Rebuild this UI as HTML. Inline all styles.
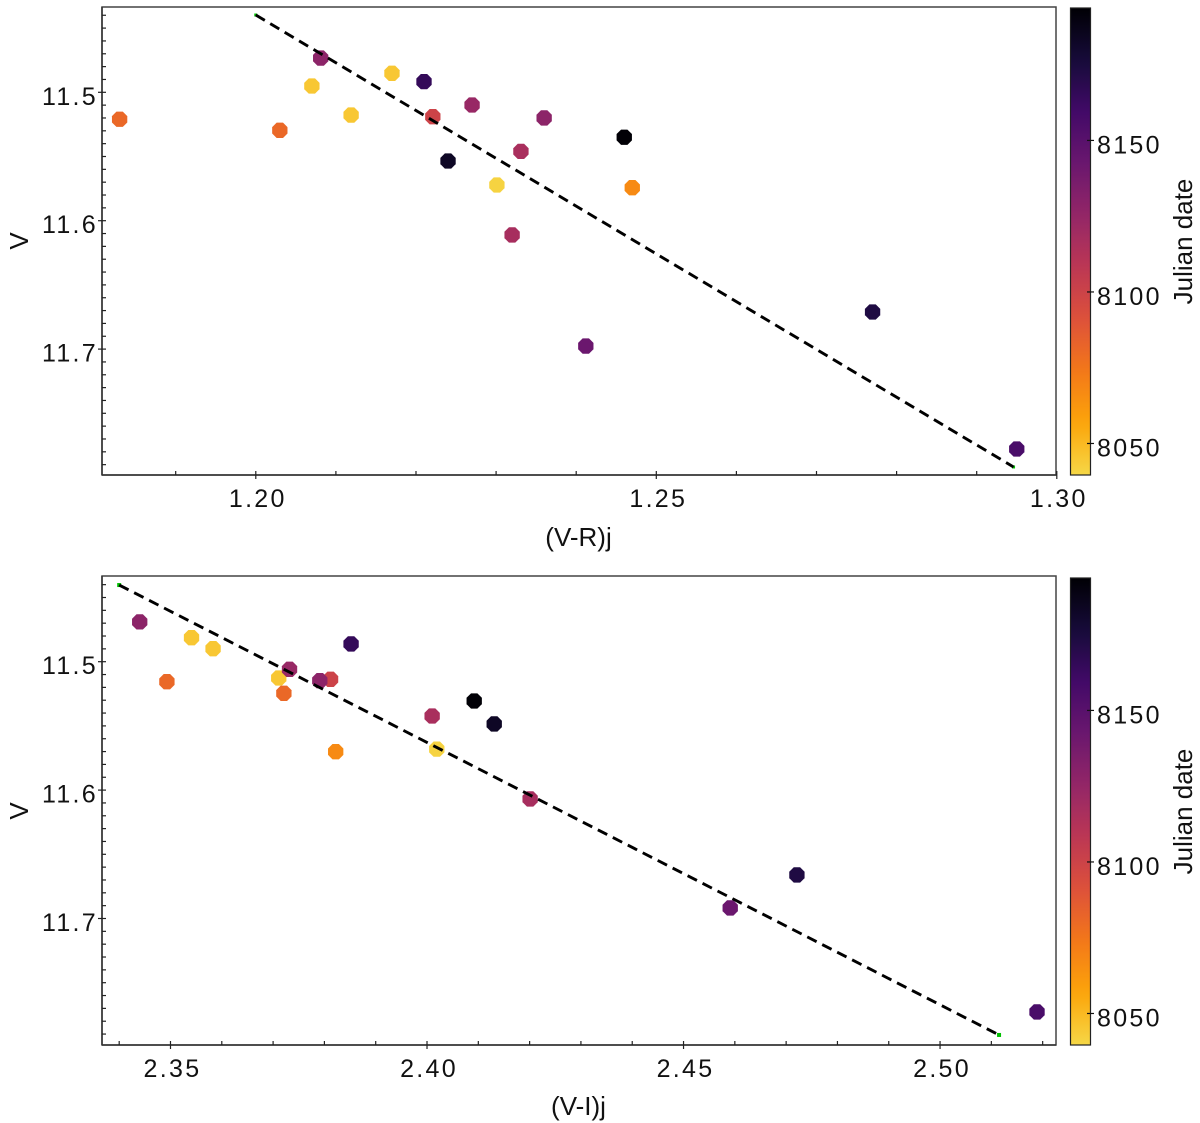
<!DOCTYPE html>
<html lang="en">
<head>
<meta charset="utf-8">
<title>Colour-magnitude diagrams</title>
<style>
html,body{margin:0;padding:0;background:#fff;width:1200px;height:1123px;overflow:hidden}
svg{display:block}
text{font-family:"Liberation Sans",Arial,sans-serif;fill:#111;font-size:26px}
.tick{letter-spacing:2.3px;font-size:25px}
.title{letter-spacing:0}
</style>
</head>
<body>
<svg id="chart" xmlns="http://www.w3.org/2000/svg" width="1200" height="1123" viewBox="0 0 1200 1123">
  <defs id="defs"></defs>
  <g id="top-panel">
    <text class="title" x="578.5" y="546" text-anchor="middle">(V-R)j</text>
    <text class="title" transform="translate(28,241) rotate(-90)" text-anchor="middle">V</text>
    <text class="title" transform="translate(1192,241.5) rotate(-90)" text-anchor="middle">Julian date</text>
  </g>
  <g id="bottom-panel">
    <text class="title" x="578.5" y="1115" text-anchor="middle">(V-I)j</text>
    <text class="title" transform="translate(28,811) rotate(-90)" text-anchor="middle">V</text>
    <text class="title" transform="translate(1192,811.5) rotate(-90)" text-anchor="middle">Julian date</text>
  </g>
</svg>
<script>
// ---- data ----
const vrColor = [1.1830,1.2030,1.2070,1.2081,1.2119,1.2170,1.2210,1.2221,1.2240,1.2270,1.2301,1.2320,1.2331,1.2360,1.2412,1.2460,1.2470,1.2770,1.2950];
const vrMag   = [11.521,11.5296,11.4951,11.4733,11.5177,11.4852,11.4917,11.519,11.5535,11.5099,11.5722,11.6111,11.546,11.52,11.6976,11.535,11.5743,11.6711,11.7778];
const vrDate  = [8081,8081,8045,8128,8045,8045,8165,8100,8183,8123,8041,8117,8116,8128,8142,8193,8067,8173,8156];

const viColor = [2.3440,2.3541,2.3583,2.3493,2.3732,2.3711,2.3721,2.3791,2.3812,2.3852,2.3822,2.4010,2.4092,2.4131,2.4019,2.4201,2.4591,2.4721,2.5189];
const viMag   = [11.469,11.4813,11.4899,11.5156,11.5059,11.5127,11.5246,11.5148,11.5137,11.4862,11.5701,11.5423,11.5306,11.5485,11.5681,11.6069,11.6918,11.6661,11.7728];
const viDate  = [8128,8045,8045,8081,8123,8045,8081,8128,8100,8165,8067,8116,8193,8183,8041,8117,8142,8173,8156];

const vrFitX = [1.2000,1.2946];
const vrFitY = [11.4398,11.7918];
const viFitX = [2.3400,2.5115];
const viFitY = [11.4403,11.7907];

const vrXTickLabels = ['1.20','1.25','1.30'];
const viXTickLabels = ['2.35','2.40','2.45','2.50'];
const yTickLabels   = ['11.5','11.6','11.7'];
const vrXMinor = [1.19,1.21,1.22,1.23,1.24,1.26,1.27,1.28,1.29];
const viXMinor = [2.34,2.36,2.37,2.38,2.39,2.41,2.42,2.43,2.44,2.46,2.47,2.48,2.49,2.51,2.52];
const yMinor = [11.44,11.45,11.46,11.47,11.48,11.49,11.51,11.52,11.53,11.54,11.55,11.56,11.57,11.58,11.59,11.61,11.62,11.63,11.64,11.65,11.66,11.67,11.68,11.69,11.71,11.72,11.73,11.74,11.75,11.76,11.77,11.78,11.79];
const cbarTickLabels = ['8050','8100','8150'];
const dateDomain = [8039.6,8193.7];
const infernoStops = ['#000004','#160b39','#420a68','#6a176e','#932667','#bc3754','#dd513a','#f37819','#fca50a','#f6d746'];

// ---- helpers ----
const NS = 'http://www.w3.org/2000/svg';
function make(tag, parent, attrs){
  const el = document.createElementNS(NS, tag);
  for (const k in attrs) el.setAttribute(k, attrs[k]);
  parent.appendChild(el);
  return el;
}
function linear(d0, d1, r0, r1){ return v => r0 + (v - d0) * (r1 - r0) / (d1 - d0); }
function hex(c){ return [1,3,5].map(i => parseInt(c.substr(i,2),16)); }
function dateColor(date){
  const t = Math.max(0, Math.min(1, (dateDomain[1] - date) / (dateDomain[1] - dateDomain[0])));
  const p = t * (infernoStops.length - 1);
  const i = Math.min(Math.floor(p), infernoStops.length - 2);
  const a = hex(infernoStops[i]), b = hex(infernoStops[i + 1]), f = p - i;
  return 'rgb(' + a.map((v, k) => Math.round(v + (b[k] - v) * f)).join(',') + ')';
}
function octagon(cx, cy, r){
  const pts = [];
  for (let i = 0; i < 8; i++){
    const a = Math.PI / 8 + i * Math.PI / 4;
    pts.push((cx + r * Math.cos(a)).toFixed(2) + ',' + (cy + r * Math.sin(a)).toFixed(2));
  }
  return pts.join(' ');
}

function drawPanel(p){
  const g = document.getElementById(p.group);
  const x = linear(p.xDomain[0], p.xDomain[1], 102, 1056);
  const y = linear(p.yRef[0], p.yRef[1], p.yPix[0], p.yPix[1]);

  // axes frame
  const frame = make('rect', g, {x:102, y:p.top, width:954, height:p.bottom - p.top, fill:'none', stroke:'#444', 'stroke-width':1.5});
  
  
  const bottomAxis = make('line', g, {x1:102, x2:1056, y1:p.bottom, y2:p.bottom, stroke:'#333', 'stroke-width':1.5});
  
  
  const leftAxis = make('line', g, {x1:102, x2:102, y1:p.top, y2:p.bottom, stroke:'#333', 'stroke-width':1.5});
  
  

  // x ticks
  p.xMinor.forEach(v => {
    const t = make('line', g, {x1:x(v), x2:x(v), y1:p.bottom - 4, y2:p.bottom, stroke:'#222', 'stroke-width':1.2});
    
    
  });
  p.xLabels.forEach(s => {
    const v = parseFloat(s);
    const t = make('line', g, {x1:x(v), x2:x(v), y1:p.bottom - 4, y2:p.bottom + 4, stroke:'#222', 'stroke-width':1.2});
    
    
    const l = make('text', g, {x:x(v) + 2, y:p.bottom + 32, 'text-anchor':'middle', class:'tick'});
    l.textContent = s;
    
    
  });

  // y ticks
  yMinor.forEach(v => {
    const t = make('line', g, {x1:102, x2:106, y1:y(v), y2:y(v), stroke:'#222', 'stroke-width':1.2});
    
    
  });
  yTickLabels.forEach(s => {
    const v = parseFloat(s);
    const t = make('line', g, {x1:98, x2:106, y1:y(v), y2:y(v), stroke:'#222', 'stroke-width':1.2});
    
    
    const l = make('text', g, {x:98, y:y(v) + 12.5, 'text-anchor':'end', class:'tick'});
    l.textContent = s;
    
    
  });

  // scatter points, oldest first so later dates sit on top
  p.xs.map((_, i) => i).sort((a, b) => p.dates[a] - p.dates[b]).forEach(i => {
    const pt = make('polygon', g, {points:octagon(x(p.xs[i]), y(p.ys[i]), 8.3), fill:dateColor(p.dates[i])});
    
    
  });

  // fit line with green end markers
  p.fitX.forEach((v, i) => {
    const s = p.endSize;
    const m = make('rect', g, {x:x(v) - s / 2, y:y(p.fitY[i]) - s / 2, width:s, height:s, fill:'#00c000'});
    
    
  });
  const fit = make('line', g, {x1:x(p.fitX[0]), y1:y(p.fitY[0]), x2:x(p.fitX[1]), y2:y(p.fitY[1]), stroke:'#000', 'stroke-width':2.9, 'stroke-dasharray':'10.5 6.3'});
  
  

  // colorbar
  const gradId = p.id + '-cbar-grad';
  const grad = make('linearGradient', document.getElementById('defs'), {id:gradId, x1:0, y1:0, x2:0, y2:1});
  for (let i = 0; i <= 40; i++){
    const date = dateDomain[1] - (dateDomain[1] - dateDomain[0]) * i / 40;
    make('stop', grad, {offset:(i / 40), 'stop-color':dateColor(date)});
  }
  const bar = make('rect', g, {x:1070.5, y:p.cbarTop, width:20, height:p.bottom - p.cbarTop, fill:'url(#' + gradId + ')', stroke:'#222', 'stroke-width':1.2});
  
  
  const cy = linear(dateDomain[0], dateDomain[1], p.bottom, p.cbarTop);
  cbarTickLabels.forEach(s => {
    const v = parseFloat(s);
    const t = make('line', g, {x1:1087, x2:1094, y1:cy(v), y2:cy(v), stroke:'#111', 'stroke-width':1.2});
    
    
    const l = make('text', g, {x:1097, y:cy(v) + 13, class:'tick'});
    l.textContent = s;
    
    
  });
}

drawPanel({id:'vr', group:'top-panel', top:7, bottom:475, cbarTop:8,
  xDomain:[1.1808,1.2999], yRef:[11.5,11.6], yPix:[92.3,220.7], endSize:3,
  xs:vrColor, ys:vrMag, dates:vrDate, fitX:vrFitX, fitY:vrFitY,
  xLabels:vrXTickLabels, xMinor:vrXMinor});
drawPanel({id:'vi', group:'bottom-panel', top:576, bottom:1045, cbarTop:578,
  xDomain:[2.33665,2.5226], yRef:[11.5,11.6], yPix:[661.7,790.1], endSize:4,
  xs:viColor, ys:viMag, dates:viDate, fitX:viFitX, fitY:viFitY,
  xLabels:viXTickLabels, xMinor:viXMinor});
</script>
</body>
</html>
